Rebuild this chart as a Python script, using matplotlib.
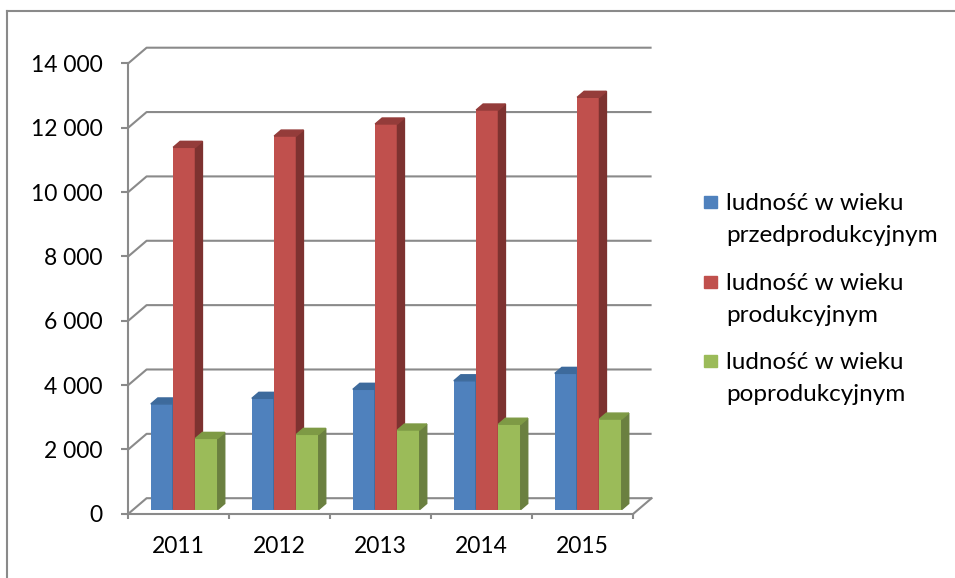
import matplotlib
matplotlib.use("Agg")
import matplotlib.pyplot as plt
from matplotlib.patches import Polygon, Rectangle
from matplotlib.lines import Line2D
from matplotlib.ticker import FuncFormatter

plt.rcParams['font.family'] = ['Lato', 'DejaVu Sans']

# data
years = ["2011", "2012", "2013", "2014", "2015"]
przedprod = [3280, 3455, 3735, 4000, 4230]
prod = [11255, 11605, 11980, 12415, 12810]
poprod = [2210, 2335, 2470, 2650, 2810]
labels = ["ludność w wieku\nprzedprodukcyjnym",
          "ludność w wieku\nprodukcyjnym",
          "ludność w wieku\npoprodukcyjnym"]
y_ticks = list(range(0, 14001, 2000))

front_c = ["#4F81BD", "#C0504D", "#9BBB59"]
side_c = ["#385D8A", "#7D3230", "#6B8040"]
top_c = ["#3D6A9C", "#943C3A", "#7E9A45"]
grid_c = "#8a8a8a"

W, H = 955, 578
fig = plt.figure(figsize=(W / 100, H / 100), dpi=100)

# front plane of the 3d box, in pixels
x0, x1 = 128.3, 633.3
yb, yt = 513.8, 63.3
ax = fig.add_axes([x0 / W, 1 - yb / H, (x1 - x0) / W, (yb - yt) / H])
ax.set_xlim(0, len(years))
ax.set_ylim(0, 14000)
ax.patch.set_visible(False)
for s in ["top", "right"]:
    ax.spines[s].set_visible(False)
for s in ["left", "bottom"]:
    ax.spines[s].set_color(grid_c)
    ax.spines[s].set_linewidth(1.5)


def px_to_data(dx, dy):
    p0 = ax.transData.transform((0, 0))
    p1 = ax.transData.transform((1, 1))
    return dx / (p1[0] - p0[0]), dy / (p1[1] - p0[1])


# back wall gridlines + floor
gx, gy = px_to_data(18.3, 15.6)
n = len(years)
for v in y_ticks:
    ax.plot([0, gx, n + gx], [v, v + gy, v + gy], color=grid_c, lw=1.5,
            clip_on=False, zorder=1, solid_capstyle='butt')
ax.plot([n, n + gx], [0, gy], color=grid_c, lw=1.5, clip_on=False, zorder=1)

# bars (front face + side + top)
series = [przedprod, prod, poprod]
bw = 22.3 / 101
fx, fy = px_to_data(5.5, 4.3)
bx, by = px_to_data(7, 6)
for k in range(n):
    for i, vals in enumerate(series):
        left = k + 0.5 - 1.5 * bw + i * bw + fx
        right = left + bw
        v = vals[k]
        ax.bar(left, v, width=bw, bottom=fy, align='edge', color=front_c[i],
               zorder=3, clip_on=False)
        ax.add_patch(Polygon([(right, fy), (right + bx, fy + by),
                              (right + bx, fy + v + by), (right, fy + v)],
                             color=side_c[i], zorder=3, clip_on=False))
        ax.add_patch(Polygon([(left, fy + v), (right, fy + v),
                              (right + bx, fy + v + by), (left + bx, fy + v + by)],
                             color=top_c[i], zorder=3, clip_on=False))

# axes ticks
ax.set_yticks(y_ticks)
ax.yaxis.set_major_formatter(FuncFormatter(lambda v, p: f"{int(v):,}".replace(",", " ")))
ax.tick_params(axis='y', direction='out', length=5, width=1.5, color=grid_c,
               pad=13.5, labelsize=16.5)
ax.set_xticks(range(n + 1))
ax.set_xticklabels([])
ax.set_xticks([k + 0.5 for k in range(n)], minor=True)
ax.set_xticklabels(years, minor=True)
ax.tick_params(axis='x', which='major', direction='out', length=3.6, width=1.5, color=grid_c)
ax.tick_params(axis='x', which='minor', length=0, pad=16.3, labelsize=16.5)

# legend drawn by hand (marker aligned with first line)
base = [210, 290, 369.3]
for i, lab in enumerate(labels):
    yc = base[i]
    fig.add_artist(Rectangle((704 / W, 1 - (yc - 2) / H), 13 / W, 12 / H,
                             color=front_c[i], transform=fig.transFigure))
    for j, line in enumerate(lab.split("\n")):
        fig.text(726 / W, 1 - (yc + j * 31.7) / H, line, ha='left',
                 va='baseline', fontsize=17.5)

# outer chart border
fig.add_artist(Line2D([7 / W, 1], [1 - 10.5 / H] * 2, transform=fig.transFigure,
                      color=grid_c, lw=1.5))
fig.add_artist(Line2D([7 / W, 7 / W], [0, 1 - 10.5 / H], transform=fig.transFigure,
                      color=grid_c, lw=1.5))

fig.savefig("out.png", dpi=100)
